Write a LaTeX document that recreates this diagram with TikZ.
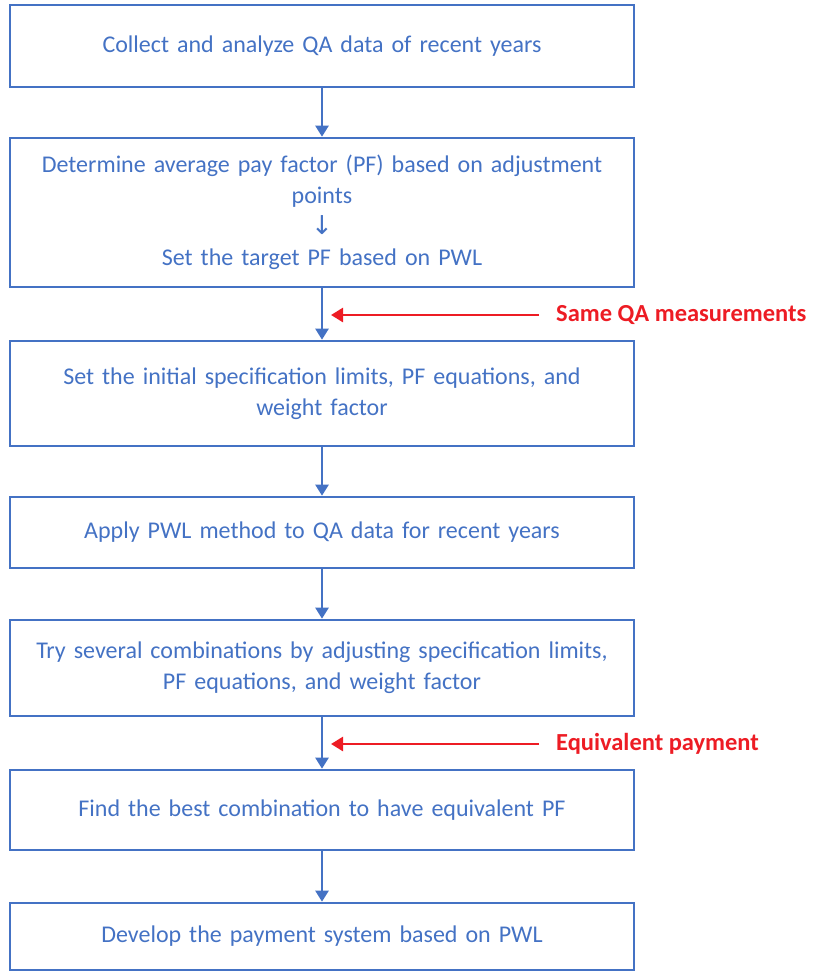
\documentclass[tikz,border=0pt]{standalone}
\usepackage{fontspec}
\setmainfont{Carlito}
\newfontfamily\symfont{DejaVu Sans}
\usetikzlibrary{arrows.meta}
\definecolor{flowblue}{RGB}{68,114,196}
\definecolor{noteRed}{RGB}{237,28,36}
\begin{document}
\begin{tikzpicture}[x=1pt,y=-1pt]
        \tikzstyle{step box}=[draw=flowblue,line width=2.6pt,minimum width=624pt,text width=612pt,align=center,text=flowblue,font=\fontsize{24}{31}\selectfont,inner sep=0pt]
        \tikzstyle{flow arrow}=[draw=flowblue,line width=2.4pt,-{Triangle[length=11pt,width=13pt]}]
        \tikzstyle{note arrow}=[draw=noteRed,line width=2.6pt,-{Triangle[length=12pt,width=14pt]}]
        \tikzstyle{note}=[text=noteRed,font=\bfseries\fontsize{24.5}{28}\selectfont,anchor=west,inner xsep=17pt,inner ysep=0pt]

        \useasboundingbox (0,0) rectangle (812,973);

        \node(1)[step box,minimum height=82pt] at (322,46) {Collect and analyze QA data of recent years};
        \node(2)[step box,minimum height=149pt] at (322,212.5) {Determine average pay factor (PF) based on adjustment\\ points\\ {\symfont\fontsize{26}{31}\selectfont\itshape ↓}\\ Set the target PF based on PWL};
        \node(3)[step box,minimum height=105pt] at (322,393.5) {Set the initial specification limits, PF equations, and\\ weight factor};
        \node(4)[step box,minimum height=71pt] at (322,532.5) {Apply PWL method to QA data for recent years};
        \node(5)[step box,minimum height=96pt] at (322,668) {Try several combinations by adjusting specification limits,\\ PF equations, and weight factor};
        \node(6)[step box,minimum height=80pt] at (322,810) {Find the best combination to have equivalent PF};
        \node(7)[step box,minimum height=67pt] at (322,936.5) {Develop the payment system based on PWL};

        \foreach \a/\b in {1/2,2/3,3/4,4/5,5/6,6/7}
        \draw[flow arrow] (\a) -- (\b);

        % side notes
        \node(same)[note] at (539,315) {Same QA measurements};
        \coordinate(sameEnd) at (331,315);
        \draw[note arrow] (same.west) -- (sameEnd);
        \node(equiv)[note] at (539,744) {Equivalent payment};
        \coordinate(equivEnd) at (331,744);
        \draw[note arrow] (equiv.west) -- (equivEnd);
    \end{tikzpicture}
\end{document}
